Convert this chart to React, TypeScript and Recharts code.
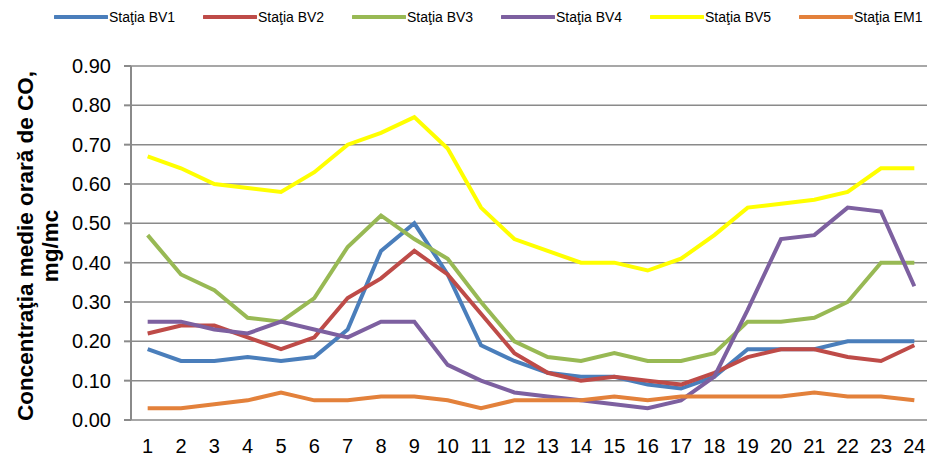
import { LineChart, Line, XAxis, YAxis, CartesianGrid, Legend } from 'recharts';

const hours = [1, 2, 3, 4, 5, 6, 7, 8, 9, 10, 11, 12, 13, 14, 15, 16, 17, 18, 19, 20, 21, 22, 23, 24];
const bv1 = [0.18, 0.15, 0.15, 0.16, 0.15, 0.16, 0.23, 0.43, 0.50, 0.37, 0.19, 0.15, 0.12, 0.11, 0.11, 0.09, 0.08, 0.11, 0.18, 0.18, 0.18, 0.20, 0.20, 0.20];
const bv2 = [0.22, 0.24, 0.24, 0.21, 0.18, 0.21, 0.31, 0.36, 0.43, 0.37, 0.27, 0.17, 0.12, 0.10, 0.11, 0.10, 0.09, 0.12, 0.16, 0.18, 0.18, 0.16, 0.15, 0.19];
const bv3 = [0.47, 0.37, 0.33, 0.26, 0.25, 0.31, 0.44, 0.52, 0.46, 0.41, 0.30, 0.20, 0.16, 0.15, 0.17, 0.15, 0.15, 0.17, 0.25, 0.25, 0.26, 0.30, 0.40, 0.40];
const bv4 = [0.25, 0.25, 0.23, 0.22, 0.25, 0.23, 0.21, 0.25, 0.25, 0.14, 0.10, 0.07, 0.06, 0.05, 0.04, 0.03, 0.05, 0.11, 0.28, 0.46, 0.47, 0.54, 0.53, 0.34];
const bv5 = [0.67, 0.64, 0.60, 0.59, 0.58, 0.63, 0.70, 0.73, 0.77, 0.69, 0.54, 0.46, 0.43, 0.40, 0.40, 0.38, 0.41, 0.47, 0.54, 0.55, 0.56, 0.58, 0.64, 0.64];
const em1 = [0.03, 0.03, 0.04, 0.05, 0.07, 0.05, 0.05, 0.06, 0.06, 0.05, 0.03, 0.05, 0.05, 0.05, 0.06, 0.05, 0.06, 0.06, 0.06, 0.06, 0.07, 0.06, 0.06, 0.05];

const yTicks = [0, 0.1, 0.2, 0.3, 0.4, 0.5, 0.6, 0.7, 0.8, 0.9];
const bounds = [0.5, 1.5, 2.5, 3.5, 4.5, 5.5, 6.5, 7.5, 8.5, 9.5, 10.5, 11.5, 12.5, 13.5, 14.5, 15.5, 16.5, 17.5, 18.5, 19.5, 20.5, 21.5, 22.5, 23.5, 24.5];

const series = [
  { key: 'bv1', name: 'Staţia BV1', color: '#4A7EBB' },
  { key: 'bv2', name: 'Staţia BV2', color: '#BE4B48' },
  { key: 'bv3', name: 'Staţia BV3', color: '#98B954' },
  { key: 'bv4', name: 'Staţia BV4', color: '#7D60A0' },
  { key: 'bv5', name: 'Staţia BV5', color: '#FFFF00' },
  { key: 'em1', name: 'Staţia EM1', color: '#E3813B' },
];

const data = hours.map((h, i) => ({
  hour: h,
  bv1: bv1[i],
  bv2: bv2[i],
  bv3: bv3[i],
  bv4: bv4[i],
  bv5: bv5[i],
  em1: em1[i],
}));

const FONT = '"Liberation Sans", Arial, sans-serif';
const GRID = '#8A8A8A';

function LegendRow() {
  return (
    <div style={{ display: 'flex', fontFamily: FONT, fontSize: 14, color: '#000' }}>
      {series.map((s) => (
        <div key={s.key} style={{ display: 'flex', alignItems: 'center', width: 149 }}>
          <svg width={54} height={6} style={{ display: 'block' }}>
            <line x1={1} y1={3} x2={53} y2={3} stroke={s.color} strokeWidth={4} strokeLinecap="round" />
          </svg>
          <span style={{ marginLeft: 1, whiteSpace: 'nowrap' }}>{s.name}</span>
        </div>
      ))}
    </div>
  );
}

export default function App() {
  return (
    <div style={{ position: 'absolute', left: 0, top: 0, width: 927, height: 455, overflow: 'hidden', background: '#fff' }}>
      <LineChart width={945} height={455} data={data} margin={{ top: 66, right: 14, bottom: 0, left: 0 }}>
        <CartesianGrid horizontal vertical={false} stroke={GRID} strokeWidth={1.5} />
        <XAxis
          dataKey="hour"
          type="number"
          domain={[0.5, 24.5]}
          ticks={hours}
          interval={0}
          height={35}
          axisLine={false}
          tickLine={false}
          tickSize={0}
          tickMargin={19}
          tick={{ fill: '#000', fontSize: 20, fontFamily: FONT }}
        />
        <XAxis
          xAxisId="bnd"
          dataKey="hour"
          type="number"
          domain={[0.5, 24.5]}
          ticks={bounds}
          interval={0}
          height={0}
          axisLine={{ stroke: GRID, strokeWidth: 2 }}
          tickLine={{ stroke: GRID, strokeWidth: 2 }}
          tickSize={7}
          tick={false}
        />
        <YAxis
          domain={[0, 0.9]}
          ticks={yTicks}
          interval={0}
          width={131}
          axisLine={{ stroke: GRID, strokeWidth: 2 }}
          tickLine={{ stroke: GRID, strokeWidth: 2 }}
          tickSize={7}
          tickMargin={13}
          tickFormatter={(v: number) => v.toFixed(2)}
          tick={{ fill: '#000', fontSize: 20, fontFamily: FONT }}
        />
        <Legend
          layout="horizontal"
          verticalAlign="middle"
          align="center"
          wrapperStyle={{ top: 9, left: 54, width: 900 }}
          content={() => <LegendRow />}
        />
        {series.map((s) => (
          <Line
            key={s.key}
            type="linear"
            dataKey={s.key}
            name={s.name}
            stroke={s.color}
            strokeWidth={4}
            dot={false}
            activeDot={false}
            isAnimationActive={false}
          />
        ))}
      </LineChart>
      <svg width={70} height={455} style={{ position: 'absolute', left: 0, top: 0 }}>
        <g fontFamily={FONT} fontWeight="bold" fontSize={22.5} fill="#000">
          <text x={33} y={246} textAnchor="middle" transform="rotate(-90 33 246)">
            Concentraţia medie orară de CO,
          </text>
          <text x={58} y={246} textAnchor="middle" transform="rotate(-90 58 246)">
            mg/mc
          </text>
        </g>
      </svg>
    </div>
  );
}
